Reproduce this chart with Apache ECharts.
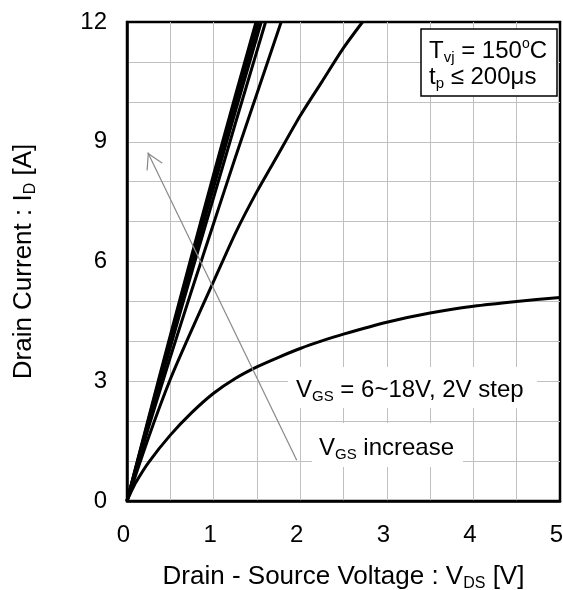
<!DOCTYPE html>
<html>
<head>
<meta charset="utf-8">
<script src="https://cdn.jsdelivr.net/npm/echarts@6.0.0/dist/echarts.min.js"></script>
<style>
  html, body {margin: 0; padding: 0; background: #fff;}
  #chart {width: 563px; height: 590px;}
</style>
</head>
<body>
<div id="chart"></div>
<script>
// Output characteristics, Tvj = 150C. VDS [V] / ID [A] per VGS curve
const vds6 = [0, 0.05, 0.1, 0.25, 0.5, 0.75, 1.0, 1.25, 1.5, 1.75, 2.0, 2.25, 2.5, 3.0, 3.5, 4.0, 4.5, 5.0];
const id6 = [0, 0.24, 0.46, 0.97, 1.65, 2.22, 2.7, 3.07, 3.36, 3.6, 3.82, 4.01, 4.18, 4.48, 4.71, 4.88, 5.0, 5.1];

const vds8 = [0, 0.25, 0.5, 0.75, 1.0, 1.25, 1.5, 1.75, 2.0, 2.25, 2.5, 2.72];
const id8 = [0, 1.6, 3.05, 4.3, 5.5, 6.7, 7.75, 8.7, 9.65, 10.5, 11.35, 12.0];

const vds10 = [0, 0.25, 0.5, 0.75, 1.0, 1.25, 1.5, 1.78];
const id10 = [0, 1.85, 3.6, 5.3, 6.95, 8.6, 10.2, 12.0];

const vds12 = [0, 0.25, 0.5, 0.75, 1.0, 1.25, 1.5, 1.6];
const id12 = [0, 1.95, 3.85, 5.75, 7.6, 9.45, 11.27, 12.0];

const vds14 = [0, 0.25, 0.5, 0.75, 1.0, 1.25, 1.55];
const id14 = [0, 2.0, 3.98, 5.93, 7.85, 9.75, 12.0];

const vds16 = [0, 0.25, 0.5, 0.75, 1.0, 1.25, 1.52];
const id16 = [0, 2.05, 4.07, 6.06, 8.02, 9.96, 12.0];

const vds18 = [0, 0.25, 0.5, 0.75, 1.0, 1.25, 1.49];
const id18 = [0, 2.09, 4.15, 6.18, 8.18, 10.15, 12.0];

// "VGS increase" arrow, from tail to tip (VDS, ID)
const arrowTail = [1.96, 1.02];
const arrowTip = [0.24, 8.73];

const FONT = "'Liberation Sans', Arial, sans-serif";

const zip = (xs, ys) => xs.map((x, i) => [x, ys[i]]);

const curves = [
  {name: "6V", data: zip(vds6, id6)},
  {name: "8V", data: zip(vds8, id8)},
  {name: "10V", data: zip(vds10, id10)},
  {name: "12V", data: zip(vds12, id12)},
  {name: "14V", data: zip(vds14, id14)},
  {name: "16V", data: zip(vds16, id16)},
  {name: "18V", data: zip(vds18, id18)},
];

// annotation text (24px) and axis titles (26px)
const richText = {
  n: {fontSize: 24, fontFamily: FONT, color: "#000", lineHeight: 28},
  s: {fontSize: 15, fontFamily: FONT, color: "#000", lineHeight: 15, verticalAlign: "bottom"},
  p: {fontSize: 14, fontFamily: FONT, color: "#000", lineHeight: 15, verticalAlign: "top"},
};
const richTitle = {
  n: {fontSize: 26, fontFamily: FONT, color: "#000", lineHeight: 30},
  s: {fontSize: 16, fontFamily: FONT, color: "#000", lineHeight: 16, verticalAlign: "bottom"},
};

const arrowHead = "path://M0,0 L9,15.6 L7.8,16 L0,2.4 L-7.8,16 L-9,15.6 Z";

const gridColor = "#c0c0c0";

const chart = echarts.init(document.getElementById("chart"), null, {renderer: "canvas"});

const series = curves.map((c) => ({
  name: c.name,
  type: "line",
  data: c.data,
  smooth: 0.25,
  showSymbol: false,
  symbol: "none",
  clip: true,
  lineStyle: {color: "#000", width: 3},
  z: 3,
}));

series.push({
  name: "arrow",
  type: "line",
  data: [],
  markLine: {
    silent: true,
    symbol: ["none", arrowHead],
    symbolSize: [18, 16],
    symbolOffset: [[0, 0], [0, 8]],
    label: {show: false},
    lineStyle: {color: "#888", width: 1.2, type: "solid"},
    data: [[{coord: arrowTail}, {coord: arrowTip}]],
  },
});

const option = {
  animation: false,
  backgroundColor: "#fff",
  grid: {
    left: 127, right: 3, top: 22, bottom: 89,
    containLabel: false,
    outerBoundsMode: "none",
    show: true, borderColor: "#000", borderWidth: 2.5,
  },
  xAxis: {
    type: "value",
    min: 0, max: 5, interval: 1,
    axisLine: {show: true, onZero: false, lineStyle: {color: "#000", width: 2.5}},
    axisTick: {show: false},
    minorTick: {show: false, splitNumber: 2},
    splitLine: {show: true, showMinLine: false, showMaxLine: false, lineStyle: {color: gridColor, width: 1}},
    minorSplitLine: {show: true, lineStyle: {color: gridColor, width: 1}},
    axisLabel: {fontSize: 24, fontFamily: FONT, color: "#000", margin: 22, padding: [0, 7, 0, 0]},
    name: "{n|Drain - Source Voltage : V}{s|DS}{n| [V]}",
    nameLocation: "middle",
    nameGap: 61,
    nameTextStyle: {rich: richTitle},
  },
  yAxis: {
    type: "value",
    min: 0, max: 12, interval: 3,
    axisLine: {show: true, onZero: false, lineStyle: {color: "#000", width: 2.5}},
    axisTick: {show: false},
    minorTick: {show: false, splitNumber: 3},
    splitLine: {show: true, showMinLine: false, showMaxLine: false, lineStyle: {color: gridColor, width: 1}},
    minorSplitLine: {show: true, lineStyle: {color: gridColor, width: 1}},
    axisLabel: {fontSize: 24, fontFamily: FONT, color: "#000", margin: 20},
    name: "{n|Drain Current : I}{s|D}{n| [A]}",
    nameLocation: "middle",
    nameGap: 88,
    nameTextStyle: {rich: richTitle},
  },
  graphic: [
    {
      type: "rect", z: 100,
      shape: {x: 421, y: 29, width: 136, height: 67},
      style: {fill: "#fff", stroke: "#000", lineWidth: 1.5},
    },
    {
      type: "text", z: 101, x: 429, y: 37,
      style: {text: "{n|T}{s|vj}{n| = 150}{p|o}{n|C}", rich: richText, verticalAlign: "top", align: "left"},
    },
    {
      type: "text", z: 101, x: 429, y: 63,
      style: {text: "{n|t}{s|p}{n| ≤ 200μs}", rich: richText, verticalAlign: "top", align: "left"},
    },
    {
      type: "rect", z: 100,
      shape: {x: 288, y: 367, width: 249, height: 41},
      style: {fill: "#fff"},
    },
    {
      type: "text", z: 101, x: 296, y: 376,
      style: {text: "{n|V}{s|GS}{n| = 6~18V, 2V step}", rich: richText, verticalAlign: "top", align: "left"},
    },
    {
      type: "rect", z: 100,
      shape: {x: 312, y: 423, width: 151, height: 44},
      style: {fill: "#fff"},
    },
    {
      type: "text", z: 101, x: 319, y: 434,
      style: {text: "{n|V}{s|GS}{n| increase}", rich: richText, verticalAlign: "top", align: "left"},
    },
  ],
  series: series,
};

chart.setOption(option);
</script>
</body>
</html>
